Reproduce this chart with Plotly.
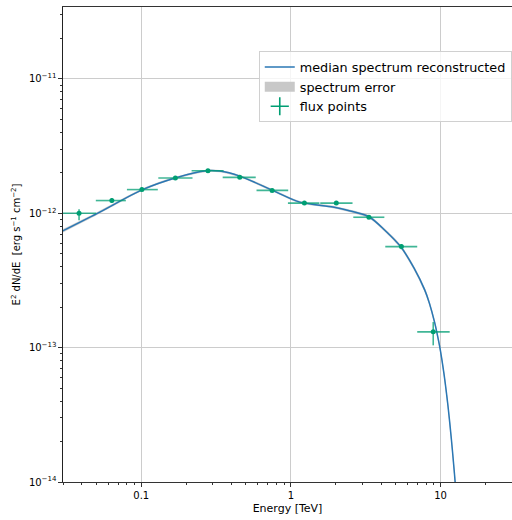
import numpy as np
import plotly.graph_objects as go

# ---- data ----
# median reconstructed spectrum (E in TeV, E^2 dN/dE in erg s^-1 cm^-2)
curve_E = [0.0295, 0.0509, 0.102, 0.171, 0.272, 0.334, 0.455, 0.754, 1.149,
           1.91, 2.49, 3.34, 4.224, 5.404, 6.635, 7.83, 8.414, 9.147, 9.667,
           9.954, 10.52, 11.21, 11.81, 12.31, 12.52, 12.66]
curve_F = [7.34e-13, 9.98e-13, 1.50e-12, 1.84e-12, 2.07e-12, 2.06e-12, 1.89e-12,
           1.48e-12, 1.21e-12, 1.114e-12, 1.04e-12, 9.38e-13, 7.51e-13, 5.65e-13,
           3.92e-13, 2.69e-13, 2.144e-13, 1.523e-13, 1.144e-13,
           9.64e-14, 6.47e-14, 3.66e-14, 2.07e-14, 1.24e-14, 9.85e-15, 8.49e-15]
# relative half-width of the error band
band_frac = [0.03, 0.025, 0.02, 0.02, 0.02, 0.02, 0.02, 0.02, 0.02,
             0.02, 0.02, 0.025, 0.025, 0.03, 0.035, 0.04, 0.045, 0.05, 0.05,
             0.055, 0.06, 0.07, 0.08, 0.09, 0.1, 0.1]

# flux points
pts_E = [0.0384, 0.0636, 0.101, 0.169, 0.279, 0.455, 0.749, 1.23, 2.01, 3.32, 5.47, 8.93]
pts_lo = [0.0295, 0.0497, 0.0802, 0.130, 0.217, 0.350, 0.589, 0.955, 1.57, 2.61, 4.27, 6.98]
pts_hi = [0.0499, 0.0789, 0.129, 0.220, 0.355, 0.582, 0.959, 1.55, 2.58, 4.21, 6.98, 11.5]
pts_F = [1.0e-12, 1.243e-12, 1.50e-12, 1.83e-12, 2.07e-12, 1.85e-12, 1.48e-12,
         1.19e-12, 1.19e-12, 9.34e-13, 5.65e-13, 1.31e-13]
pts_Fup = [1.07e-12, 1.30e-12, 1.55e-12, 1.87e-12, 2.10e-12, 1.89e-12, 1.52e-12,
           1.22e-12, 1.22e-12, 9.6e-13, 5.9e-13, 1.55e-13]
pts_Flo = [0.887e-12, 1.19e-12, 1.45e-12, 1.79e-12, 2.04e-12, 1.81e-12, 1.44e-12,
           1.16e-12, 1.16e-12, 9.1e-13, 5.4e-13, 1.04e-13]

x_tickvals = [0.1, 1, 10]
x_ticktext = ["0.1", "1", "10"]
y_tickvals = [1e-14, 1e-13, 1e-12, 1e-11]
y_ticktext = ["10<sup>\u221214</sup>", "10<sup>\u221213</sup>",
              "10<sup>\u221212</sup>", "10<sup>\u221211</sup>"]

BLUE = "#2a77b4"
GREEN = "#009E73"
FONT = "DejaVu Sans"

cE = np.array(curve_E)
cF = np.array(curve_F)
bf = np.array(band_frac)

fig = go.Figure()

# error band
fig.add_trace(go.Scatter(x=cE, y=cF * (1 - bf), mode="lines",
                         line=dict(width=0, shape="spline", smoothing=0.8),
                         showlegend=False, hoverinfo="skip"))
fig.add_trace(go.Scatter(x=cE, y=cF * (1 + bf), mode="lines",
                         line=dict(width=0, shape="spline", smoothing=0.8),
                         fill="tonexty", fillcolor="rgba(160,160,160,0.55)",
                         showlegend=False, name="spectrum error"))
# median line
fig.add_trace(go.Scatter(x=cE, y=cF, mode="lines",
                         line=dict(color=BLUE, width=1.5, shape="spline", smoothing=0.8),
                         name="median spectrum reconstructed", legendrank=1))
# legend entry for the error band
fig.add_trace(go.Scatter(x=[None], y=[None], mode="lines",
                         line=dict(color="#c8c8c8", width=10),
                         name="spectrum error", legendrank=2))

pE = np.array(pts_E)
pF = np.array(pts_F)
fig.add_trace(go.Scatter(
    x=pE, y=pF, mode="markers",
    marker=dict(color=GREEN, size=5),
    error_x=dict(type="data", symmetric=False,
                 array=np.array(pts_hi) - pE, arrayminus=pE - np.array(pts_lo),
                 color="rgba(0,158,115,0.75)", thickness=1.6, width=0),
    error_y=dict(type="data", symmetric=False,
                 array=np.array(pts_Fup) - pF, arrayminus=pF - np.array(pts_Flo),
                 color="rgba(0,158,115,0.75)", thickness=1.6, width=0),
    showlegend=False, name="flux points"))
# legend entry for flux points
fig.add_trace(go.Scatter(x=[None], y=[None], mode="markers",
                         marker=dict(color=GREEN, size=13, symbol="cross-thin",
                                     line=dict(color=GREEN, width=1.6)),
                         name="flux points", legendrank=3))

minor_x = [m * 10.0 ** d for d in range(-2, 2) for m in range(2, 10)]
minor_y = [m * 10.0 ** d for d in range(-15, -10) for m in range(2, 10)]

fig.update_layout(
    width=512, height=520,
    margin=dict(l=63, r=0, t=7, b=38),
    paper_bgcolor="white", plot_bgcolor="white",
    font=dict(family=FONT, size=10, color="black"),
    showlegend=True,
    legend=dict(x=0.436, y=0.907, xanchor="left", yanchor="top",
                traceorder="normal",
                bgcolor="rgba(255,255,255,0.8)", bordercolor="#d0d0d0", borderwidth=1,
                font=dict(family=FONT, size=12.8), itemwidth=30,
                tracegroupgap=0),
)
fig.update_xaxes(
    type="log", range=[np.log10(0.03), np.log10(30)], automargin=False,
    tickmode="array", tickvals=x_tickvals, ticktext=x_ticktext,
    ticks="outside", ticklen=3.5, tickwidth=1, tickcolor="#333",
    minor=dict(tickmode="array", tickvals=minor_x, ticks="outside", ticklen=2,
               tickcolor="#333", showgrid=False),
    showgrid=True, gridcolor="#cccccc", gridwidth=1.2,
    showline=True, linecolor="#333", linewidth=1.3, mirror=True,
    zeroline=False,
    title=dict(text="Energy [TeV]", font=dict(size=11), standoff=4),
    tickfont=dict(size=10),
)
fig.update_yaxes(
    type="log", range=[-14, -10.465], automargin=False,
    tickmode="array", tickvals=y_tickvals, ticktext=y_ticktext,
    ticks="outside", ticklen=3.5, tickwidth=1, tickcolor="#333",
    minor=dict(tickmode="array", tickvals=minor_y, ticks="outside", ticklen=2,
               tickcolor="#333", showgrid=False),
    showgrid=True, gridcolor="#cccccc", gridwidth=1.2,
    showline=True, linecolor="#222", linewidth=1.2, mirror=True,
    zeroline=False,
    title=dict(text="E<sup>2</sup> dN/dE  [erg s<sup>\u22121</sup> cm<sup>\u22122</sup>]",
               font=dict(size=10), standoff=6),
    tickfont=dict(size=10),
)

fig.write_html("out.html", config={"displayModeBar": False},
               post_script="document.body.style.margin='0';")
